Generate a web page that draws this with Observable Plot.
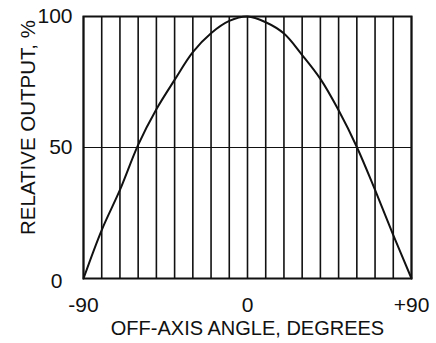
<!DOCTYPE html>
<html>
<head>
<meta charset="utf-8">
<script src="https://cdn.jsdelivr.net/npm/d3@7"></script>
<script src="https://cdn.jsdelivr.net/npm/@observablehq/plot@0.6"></script>
<style>
  html, body { margin: 0; padding: 0; background: #fff; }
</style>
</head>
<body>
<div id="chart"></div>
<script>
// Data
const angles = [-90, -80, -70, -60, -50, -40, -30, -20, -10, 0, 10, 20, 30, 40, 50, 60, 70, 80, 90];
const output = [0, 18.5, 33.8, 51, 64.6, 75.8, 86.4, 93.6, 98.3, 100, 97.8, 93.5, 85.3, 76.2, 64.2, 50.2, 33.8, 16.6, 0];
const gridAngles = [-90, -80, -70, -60, -50, -40, -30, -20, -10, 0, 10, 20, 30, 40, 50, 60, 70, 80, 90];
const xTicks = [-90, 0, 90];
const xTickLabels = ["-90", "0", "+90"];
const yTicks = [100, 50];
const yZero = [0];
const xTitle = "OFF-AXIS ANGLE, DEGREES";
const yTitle = "RELATIVE OUTPUT, %";

const curve = angles.map((a, i) => ({angle: a, value: output[i]}));

const chart = Plot.plot({
  width: 436,
  height: 343,
  marginLeft: 83,
  marginRight: 25,
  marginTop: 16,
  marginBottom: 65,
  style: {fontFamily: "'Liberation Sans', Arial, sans-serif", fontSize: "20px", color: "#111", background: "#fff"},
  x: {domain: [-90, 90]},
  y: {domain: [0, 100]},
  marks: [
    Plot.ruleX(gridAngles, {stroke: "#111", strokeWidth: 1.6}),
    Plot.ruleY([50], {stroke: "#111", strokeWidth: 1.1}),
    Plot.frame({stroke: "#111", strokeWidth: 2}),
    Plot.line(curve, {x: "angle", y: "value", curve: "catmull-rom", stroke: "#111", strokeWidth: 2}),
    Plot.axisX(xTicks, {tickSize: 0, tickPadding: 19, label: null, tickFormat: (d) => xTickLabels[xTicks.indexOf(d)], fontSize: 21}),
    Plot.axisY(yTicks, {tickSize: 0, tickPadding: 11, label: null, fontSize: 21}),
    Plot.text(yZero, {x: -90, y: (d) => d, text: (d) => String(d), frameAnchor: "left", textAnchor: "middle", dx: -27, dy: 3, fontSize: 21}),
    Plot.text([xTitle], {frameAnchor: "bottom", text: (d) => d, dy: 56, fontSize: 20}),
    Plot.text([yTitle], {frameAnchor: "left", textAnchor: "middle", text: (d) => d, rotate: -90, dx: -55, dy: -20, fontSize: 20.5})
  ]
});
document.getElementById("chart").appendChild(chart);
</script>
</body>
</html>
